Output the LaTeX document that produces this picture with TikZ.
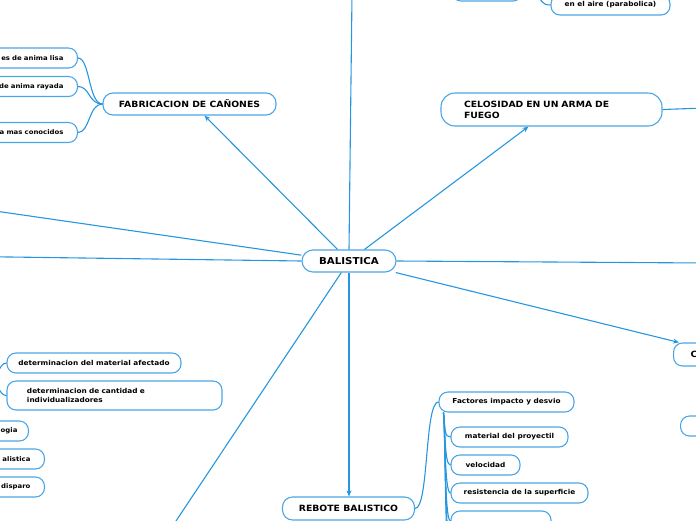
\documentclass[tikz,border=0pt]{standalone}
\usepackage{fontspec}
\setmainfont{DejaVu Sans}[FakeStretch=1.08]
\usetikzlibrary{arrows.meta}

\definecolor{lineaazul}{RGB}{38,150,222}
\definecolor{cajaazul}{RGB}{75,166,230}

\tikzset{
  tema/.style={draw=cajaazul, line width=1.1pt, rounded corners=10pt, inner sep=0pt,
    font=\bfseries\fontsize{8.6}{11}\selectfont},
  hoja/.style={draw=cajaazul, line width=1.1pt, rounded corners=9pt, inner sep=0pt,
    minimum height=20pt, font=\bfseries\fontsize{6.8}{9}\selectfont},
  corte/.style={hoja, anchor=east, text width=90pt, align=right, inner xsep=14pt,
    font=\bfseries\fontsize{6.4}{9}\selectfont},
  enlace/.style={draw=lineaazul, line width=1.1pt},
  flecha/.style={enlace, -{Stealth[length=6pt,width=5pt]}},
}

\begin{document}
\begin{tikzpicture}[x=1pt,y=-1pt]
  \useasboundingbox (0,0) rectangle (696,520);
  \clip (0,0) rectangle (696,520);

  % nodo central
  \node[tema, minimum width=94pt, minimum height=22pt, rounded corners=11pt,
    font=\bfseries\fontsize{9.5}{11}\selectfont] (bal) at (349,261) {BALISTICA};

  % fabricacion de cañones
  \node[tema, minimum width=173pt, minimum height=22pt] (fab) at (189.5,104) {FABRICACION DE CAÑONES};
  \node[corte] (lisa) at (78,58) {es de anima lisa};
  \node[corte] (rayada) at (78,86.5) {de anima rayada};
  \node[corte] (conoc) at (78,132.5) {a mas conocidos};
  \foreach \h in {lisa,rayada,conoc}
    \draw[enlace] (fab.west) .. controls +(-14,0) and +(12,0) .. (\h.east);
  \draw[flecha] (bal) -- ([xshift=15pt]fab.south);

  % celosidad
  \node[tema, minimum width=221pt, minimum height=33pt, rounded corners=14pt,
    text width=175pt, align=left] (celo) at (551.5,109.5) {CELOSIDAD EN UN ARMA DE\\FUEGO};
  \coordinate (celoder) at (705,108);
  \draw[enlace] (celo.east) -- (celoder);
  \draw[flecha] (bal) -- ([xshift=-23pt]celo.south);

  % arriba
  \node[hoja, minimum width=70pt, minimum height=22pt] (sup) at (487,-10) {};
  \node[hoja, minimum width=119pt] (aire) at (610.5,5) {en el aire (parabolica)};
  \coordinate (airepadre) at (536,-14);
  \draw[enlace] (airepadre) .. controls +(4,16) and +(-8,0) .. (aire.west);
  \coordinate (arriba) at (352,-5);
  \draw[enlace] (bal.north) -- (arriba);

  % hacia la izquierda
  \coordinate (izq1) at (-5,211);
  \coordinate (izq2) at (-5,256.8);
  \draw[enlace] (bal.173) -- (izq1);
  \draw[enlace] (bal.west) -- (izq2);

  % hacia la derecha
  \coordinate (der) at (705,263);
  \draw[enlace] (bal.east) -- (der);
  \node[hoja, anchor=west, minimum width=80pt, minimum height=23pt, text width=46pt,
    align=left, font=\bfseries\fontsize{8.6}{11}\selectfont] (cnode) at (673,354.5) {C};
  \draw[flecha] (bal) -- ([xshift=6pt]cnode.north west);
  \node[hoja, anchor=west, minimum width=40pt] (cnode2) at (680,426) {};

  % rebote balistico
  \node[tema, minimum width=132pt, minimum height=23pt] (reb) at (348.5,508.5) {REBOTE BALISTICO};
  \draw[flecha] (bal.south) -- (bal.south |- reb.north);
  \node[hoja, minimum width=135pt] (fac) at (506.5,402) {Factores impacto y desvio};
  \draw[enlace] (reb.east) .. controls +(14,0) and +(-14,0) .. (fac.west);
  \node[hoja, minimum width=117pt] (mat) at (509.5,437) {material del proyectil};
  \node[hoja, minimum width=69pt] (vel) at (485.5,465) {velocidad};
  \node[hoja, minimum width=137pt] (res) at (519.5,493) {resistencia de la superficie};
  \node[hoja, minimum width=100pt] (otro) at (501,521) {};
  \foreach \h in {mat,vel,res,otro}
    \draw[enlace] ([xshift=5pt]fac.south west) .. controls +(2,18) and +(-6,0) .. (\h.west);
  \coordinate (mas1) at (451,549);
  \coordinate (mas2) at (451,577);
  \foreach \h in {mas1,mas2}
    \draw[enlace] ([xshift=5pt]fac.south west) .. controls +(2,18) and +(-6,0) .. (\h);

  % abajo a la izquierda
  \node[hoja, minimum width=174pt] (detmat) at (94,363) {determinacion del material afectado};
  \node[hoja, minimum width=215pt, minimum height=29pt, text width=175pt, align=left]
    (detcant) at (114.5,395.5) {determinacion de cantidad e\\individualizadores};
  \coordinate (padre) at (-10,380);
  \draw[enlace] (padre) .. controls +(8,0) and +(-8,0) .. (detmat.west);
  \draw[enlace] (padre) .. controls +(8,0) and +(-8,0) .. (detcant.west);
  \node[corte, inner xsep=11pt] (ogia) at (29,431) {ogia};
  \node[corte] (alist) at (45,459) {alistica};
  \node[corte] (disp) at (45,487) {disparo};
  \coordinate (abajo) at (170,530);
  \draw[enlace] (bal) -- (abajo);
\end{tikzpicture}
\end{document}
